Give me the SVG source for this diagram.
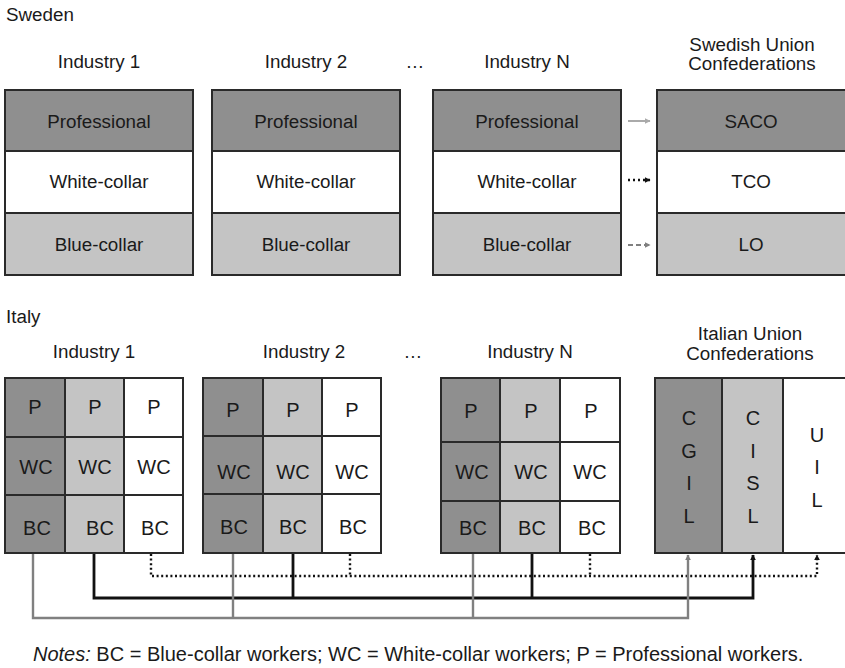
<svg xmlns="http://www.w3.org/2000/svg" width="845" height="668" viewBox="0 0 845 668">
<defs>
<style>
text{font-family:"Liberation Sans",Arial,Helvetica,sans-serif;fill:#1a1a1a;}
.lbl{font-size:18.8px;}
.ctr{text-anchor:middle;}
.cell{font-size:20px;text-anchor:middle;}
.box{stroke:#2a2a2a;stroke-width:2;}
.dark{fill:#8f8f8f;}
.light{fill:#c4c4c4;}
.white{fill:#fff;}
.grid{fill:none;stroke:#2a2a2a;stroke-width:2;}
.cg{fill:none;stroke:#808080;stroke-width:2.4;}
.ci{fill:none;stroke:#111;stroke-width:2.8;}
.ui{fill:none;stroke:#111;stroke-width:2.4;stroke-dasharray:2 2.6;}
</style>
<marker id="aGray" viewBox="0 0 10 10" refX="9" refY="5" markerWidth="6" markerHeight="6" markerUnits="userSpaceOnUse" orient="auto"><path d="M0,0 L10,5 L0,10 z" fill="#808080"/></marker>
<marker id="aBlack" viewBox="0 0 10 10" refX="9" refY="5" markerWidth="6" markerHeight="6" markerUnits="userSpaceOnUse" orient="auto"><path d="M0,0 L10,5 L0,10 z" fill="#111"/></marker>
<marker id="aLight" viewBox="0 0 10 10" refX="9" refY="5" markerWidth="6" markerHeight="6" markerUnits="userSpaceOnUse" orient="auto"><path d="M0,0 L10,5 L0,10 z" fill="#aaa"/></marker>
</defs>
<rect width="845" height="668" fill="#fff"/>

<!-- Titles -->
<text class="lbl" x="6" y="21">Sweden</text>
<text class="lbl" x="6" y="323">Italy</text>

<!-- Sweden -->
<g id="se-ind1">
<text class="lbl ctr" x="99" y="68">Industry 1</text>
<rect class="box dark" x="5" y="90" width="188" height="61"/>
<rect class="box white" x="5" y="151" width="188" height="62"/>
<rect class="box light" x="5" y="213" width="188" height="62"/>
<text class="lbl ctr" x="99" y="128">Professional</text>
<text class="lbl ctr" x="99" y="188">White-collar</text>
<text class="lbl ctr" x="99" y="251">Blue-collar</text>
</g>
<g id="se-ind2">
<text class="lbl ctr" x="306" y="68">Industry 2</text>
<rect class="box dark" x="212" y="90" width="188" height="61"/>
<rect class="box white" x="212" y="151" width="188" height="62"/>
<rect class="box light" x="212" y="213" width="188" height="62"/>
<text class="lbl ctr" x="306" y="128">Professional</text>
<text class="lbl ctr" x="306" y="188">White-collar</text>
<text class="lbl ctr" x="306" y="251">Blue-collar</text>
</g>
<text class="lbl ctr" x="415" y="68">…</text>
<g id="se-indN">
<text class="lbl ctr" x="527" y="68">Industry N</text>
<rect class="box dark" x="433" y="90" width="188" height="61"/>
<rect class="box white" x="433" y="151" width="188" height="62"/>
<rect class="box light" x="433" y="213" width="188" height="62"/>
<text class="lbl ctr" x="527" y="128">Professional</text>
<text class="lbl ctr" x="527" y="188">White-collar</text>
<text class="lbl ctr" x="527" y="251">Blue-collar</text>
</g>
<g id="se-conf">
<text class="lbl ctr" x="752" y="51">Swedish Union</text>
<text class="lbl ctr" x="752" y="70">Confederations</text>
<rect class="box dark" x="657" y="90" width="190" height="61"/>
<rect class="box white" x="657" y="151" width="190" height="62"/>
<rect class="box light" x="657" y="213" width="190" height="62"/>
<text class="lbl ctr" x="751" y="128">SACO</text>
<text class="lbl ctr" x="751" y="188">TCO</text>
<text class="lbl ctr" x="751" y="251">LO</text>
</g>

<!-- Italy -->
<g id="it-ind1">
<text class="lbl ctr" x="94" y="358">Industry 1</text>
<rect class="dark" x="5" y="378" width="60" height="175"/>
<rect class="light" x="65" y="378" width="59" height="175"/>
<rect class="white" x="124" y="378" width="59" height="175"/>
<path class="grid" d="M5,378H183V553H5Z M65,378V553 M124,378V553 M5,437H183 M5,495H183"/>
<text class="cell" x="35" y="414">P</text><text class="cell" x="95" y="414">P</text><text class="cell" x="154" y="414">P</text>
<text class="cell" x="36" y="474">WC</text><text class="cell" x="95" y="474">WC</text><text class="cell" x="154" y="474">WC</text>
<text class="cell" x="37" y="535">BC</text><text class="cell" x="100" y="535">BC</text><text class="cell" x="155" y="535">BC</text>
</g>
<g id="it-ind2">
<text class="lbl ctr" x="304" y="358">Industry 2</text>
<rect class="dark" x="203" y="378" width="60" height="175"/>
<rect class="light" x="263" y="378" width="59" height="175"/>
<rect class="white" x="322" y="378" width="59" height="175"/>
<path class="grid" d="M203,378H381V553H203Z M263,378V553 M322,378V553 M203,436H381 M203,494H381"/>
<text class="cell" x="233" y="417">P</text><text class="cell" x="293" y="417">P</text><text class="cell" x="352" y="417">P</text>
<text class="cell" x="234" y="479">WC</text><text class="cell" x="293" y="479">WC</text><text class="cell" x="352" y="479">WC</text>
<text class="cell" x="234" y="534">BC</text><text class="cell" x="293" y="534">BC</text><text class="cell" x="353" y="534">BC</text>
</g>
<text class="lbl ctr" x="413" y="358">…</text>
<g id="it-indN">
<text class="lbl ctr" x="530" y="358">Industry N</text>
<rect class="dark" x="441" y="378" width="59" height="175"/>
<rect class="light" x="500" y="378" width="60" height="175"/>
<rect class="white" x="560" y="378" width="60" height="175"/>
<path class="grid" d="M441,378H620V553H441Z M500,378V553 M560,378V553 M441,442H620 M441,501H620"/>
<text class="cell" x="471" y="418">P</text><text class="cell" x="531" y="418">P</text><text class="cell" x="591" y="418">P</text>
<text class="cell" x="472" y="479">WC</text><text class="cell" x="531" y="479">WC</text><text class="cell" x="590" y="479">WC</text>
<text class="cell" x="473" y="535">BC</text><text class="cell" x="532" y="535">BC</text><text class="cell" x="592" y="535">BC</text>
</g>
<g id="it-conf">
<text class="lbl ctr" x="750" y="340">Italian Union</text>
<text class="lbl ctr" x="750" y="360">Confederations</text>
<rect class="dark" x="655" y="378" width="67" height="175"/>
<rect class="light" x="722" y="378" width="61" height="175"/>
<rect class="white" x="783" y="378" width="64" height="175"/>
<path class="grid" d="M847,378H655V553H847 M722,378V553 M783,378V553"/>
<text class="cell" x="689" y="425">C</text><text class="cell" x="689" y="458">G</text><text class="cell" x="689" y="490">I</text><text class="cell" x="689" y="523">L</text>
<text class="cell" x="753" y="425">C</text><text class="cell" x="753" y="458">I</text><text class="cell" x="753" y="490">S</text><text class="cell" x="753" y="523">L</text>
<text class="cell" x="817" y="442">U</text><text class="cell" x="817" y="474">I</text><text class="cell" x="817" y="507">L</text>
</g>

<!-- Connectors -->
<g id="connectors">
<line x1="628" y1="121" x2="650" y2="121" stroke="#aaa" stroke-width="2" marker-end="url(#aLight)"/>
<line x1="628" y1="180" x2="650" y2="180" stroke="#111" stroke-width="2.4" stroke-dasharray="2 3" marker-end="url(#aBlack)"/>
<line x1="628" y1="245" x2="650" y2="245" stroke="#808080" stroke-width="2.2" stroke-dasharray="5 3" marker-end="url(#aGray)"/>

<path class="ui" d="M151,554V576H817V555" marker-end="url(#aBlack)"/>
<path class="ui" d="M350,554V576 M590,554V576"/>
<path class="ci" d="M94,554V598H753V555" marker-end="url(#aBlack)"/>
<path class="ci" d="M293,554V598 M532,554V598"/>
<path class="cg" d="M33,554V618H688V555" marker-end="url(#aGray)"/>
<path class="cg" d="M233,554V618 M473,554V618"/>
</g>

<text x="33" y="661" style="font-size:20px"><tspan font-style="italic">Notes:</tspan> BC = Blue-collar workers; WC = White-collar workers; P = Professional workers.</text>
</svg>
